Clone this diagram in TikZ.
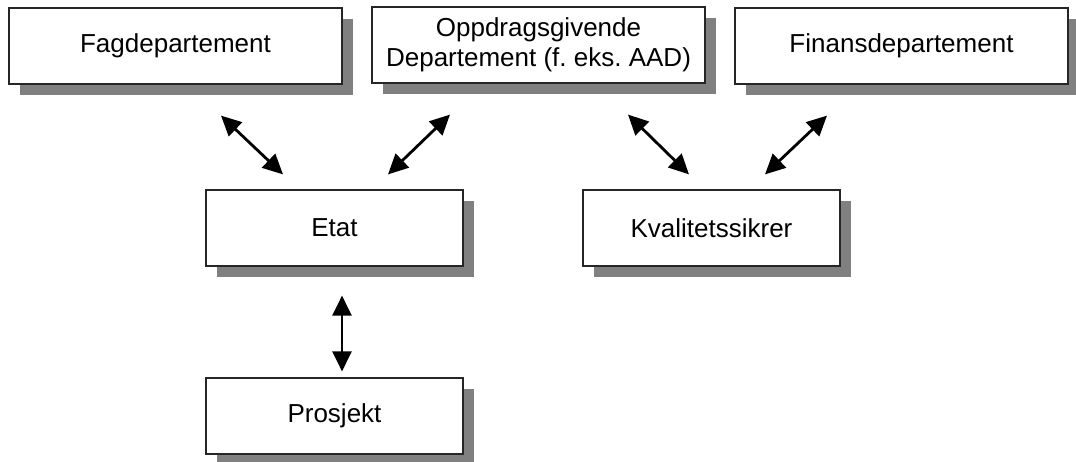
\documentclass[tikz,border=0pt]{standalone}
\usepackage{fontspec}
\setmainfont{Liberation Sans}
\usetikzlibrary{shadows,arrows.meta}
\tikzset{box/.style={draw=black!85,line width=1.2pt,fill=white,inner sep=0pt,
    minimum height=76pt,align=center,font=\fontsize{26}{30}\selectfont\frenchspacing,
    drop shadow={shadow xshift=11pt,shadow yshift=-11pt,fill=black!50,opacity=1}},
  wide/.style={box,minimum width=333pt},
  narrow/.style={box,minimum width=257pt},
  link/.style={line width=2.8pt,{Triangle[length=20pt,width=19pt]}-{Triangle[length=20pt,width=19pt]}}}

\begin{document}
\begin{tikzpicture}[x=1pt,y=-1pt]
      \useasboundingbox (0,0) rectangle (1076,462);
      \node[wide]   (fag)  at (175.5, 46) {Fagdepartement};
      \node[wide]   (opp)  at (538.5, 45) {Oppdragsgivende\\Departement (f. eks. AAD)};
      \node[wide]   (fin)  at (901.5, 46) {Finansdepartement};
      \node[narrow] (etat) at (334.5,228) {Etat};
      \node[narrow] (kval) at (711.5,228) {Kvalitetssikrer};
      \node[narrow] (pro)  at (334.5,416) {Prosjekt};
      \draw[link] ([shift={(45.5,31)}]fag.south)  -- ([shift={(-51.5,-15)}]etat.north);
      \draw[link] ([shift={(-88.5,31)}]opp.south) -- ([shift={(53.5,-15)}]etat.north);
      \draw[link] ([shift={(89.5,31)}]opp.south)  -- ([shift={(-22.5,-15)}]kval.north);
      \draw[link] ([shift={(-74.5,31)}]fin.south) -- ([shift={(53.5,-15)}]kval.north);
      \draw[link] ([shift={(7.5,29)}]etat.south)  -- ([shift={(7.5,-6)}]pro.north);
    \end{tikzpicture}
\end{document}
